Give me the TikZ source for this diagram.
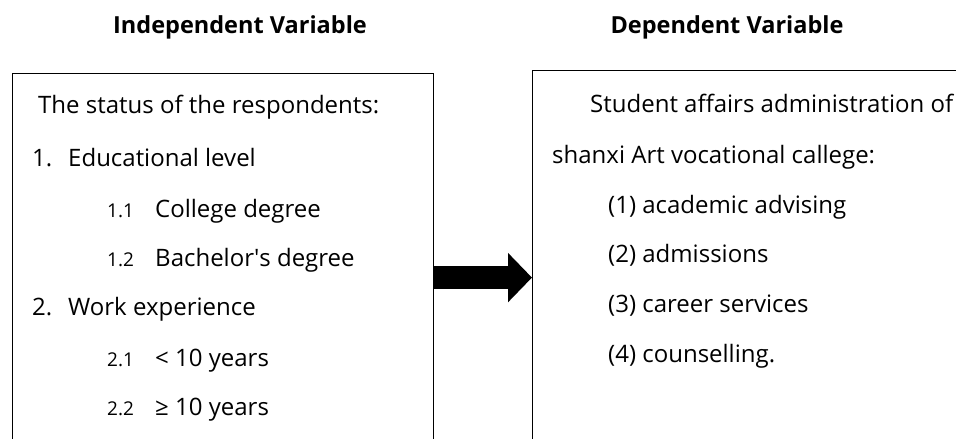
\documentclass[tikz,border=0pt]{standalone}
\usepackage{fontspec}
\setmainfont{Open Sans}
\usetikzlibrary{arrows.meta}
\tikzstyle{varbox}=[rectangle,draw,line width=1.2pt,anchor=north west,inner sep=0pt]
\tikzstyle{heading}=[font=\fontsize{23.5}{27}\selectfont\bfseries,anchor=base]
\tikzstyle{entry}=[font=\fontsize{24}{28}\selectfont,anchor=base west,inner sep=0pt]
\tikzstyle{subnum}=[font=\fontsize{19}{22}\selectfont,anchor=base west,inner sep=0pt]
\tikzstyle{bigarrow}=[draw,line width=23pt,-{Triangle[length=24pt,width=48pt]}]

\begin{document}
\begin{tikzpicture}[x=1pt,y=-1pt]

  \useasboundingbox (0,0) rectangle (956,439);
  \clip (0,0) rectangle (956,439);

  % the two boxes run off the bottom (and the right one off the side)
  \node[varbox, minimum width=421pt, minimum height=408pt] (ivbox) at (12,73) {};
  \node[varbox, minimum width=460pt, minimum height=414pt] (dvbox) at (532,70) {};

  \node[heading] (ivtitle) at (240,33) {Independent Variable};
  \node[heading] (dvtitle) at (727,33) {Dependent Variable};

  % left column
  \foreach \x/\y/\name/\label in {38/113/status/The status of the respondents:,
        32/166/edunum/1., 68/166/edu/Educational level,
        155/217/college/College degree, 155/266/bachelor/Bachelor\textquotesingle s degree,
        32/315/worknum/2., 68/315/work/Work experience,
        155/366/less/< 10 years, 155/415/more/≥ 10 years}
          \node[entry] (\name) at (\x,\y) {\label};

  \foreach \y/\name/\label in {217/n11/1.1, 266/n12/1.2, 366/n21/2.1, 415/n22/2.2}
          \node[subnum] (\name) at (107,\y) {\label};

  % right column
  \foreach \x/\y/\name/\label in {590/112/affairs/Student affairs administration of,
        552/163/college2/shanxi Art vocational callege:,
        608/213/advising/(1) academic advising,
        608/262/admission/(2) admissions,
        608/312/career/(3) career services,
        608/362/counsel/(4) counselling.}
          \node[entry] (\name) at (\x,\y) {\label};

  \path[bigarrow] (ivbox.east) -- (dvbox.west);

\end{tikzpicture}
\end{document}
